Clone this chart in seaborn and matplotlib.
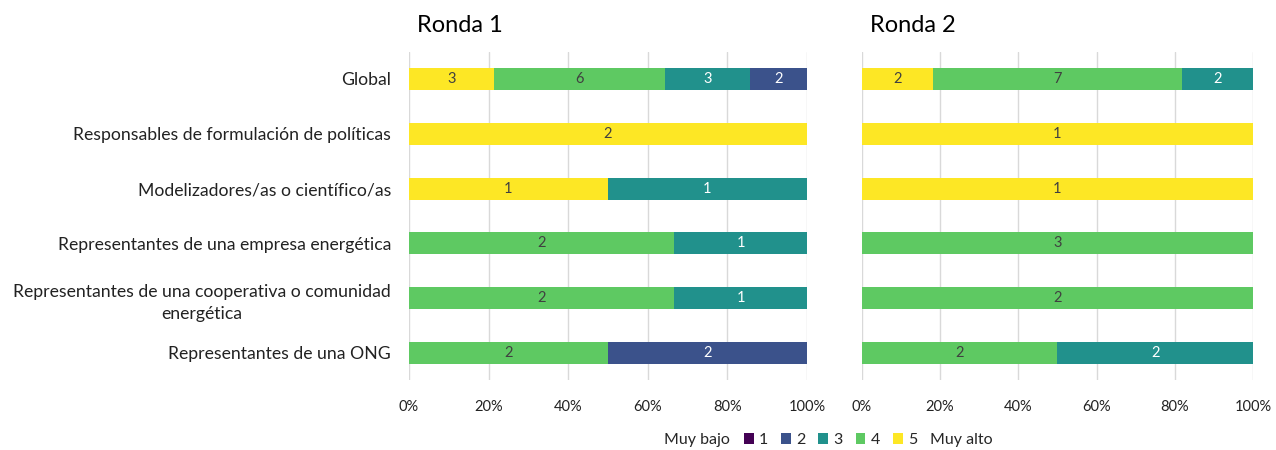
import numpy as np
import pandas as pd
import matplotlib
matplotlib.use("Agg")
import matplotlib.pyplot as plt
from matplotlib.patches import Patch
import seaborn as sns

categories = [
    "Global",
    "Responsables de formulación de políticas",
    "Modelizadores/as o científico/as",
    "Representantes de una empresa energética",
    "Representantes de una cooperativa o comunidad\nenergética",
    "Representantes de una ONG",
]
levels = ["5", "4", "3", "2", "1"]  # left-to-right order of segments

# counts per level (5, 4, 3, 2, 1)
ronda1 = {
    "5": [3, 2, 1, 0, 0, 0],
    "4": [6, 0, 0, 2, 2, 2],
    "3": [3, 0, 1, 1, 1, 0],
    "2": [2, 0, 0, 0, 0, 2],
    "1": [0, 0, 0, 0, 0, 0],
}
ronda2 = {
    "5": [2, 1, 1, 0, 0, 0],
    "4": [7, 0, 0, 3, 2, 2],
    "3": [2, 0, 0, 0, 0, 2],
    "2": [0, 0, 0, 0, 0, 0],
    "1": [0, 0, 0, 0, 0, 0],
}
titles = ["Ronda 1", "Ronda 2"]
xticks = [0, 20, 40, 60, 80, 100]
xticklabels = ["0%", "20%", "40%", "60%", "80%", "100%"]

colors = {"1": "#440154", "2": "#3b528b", "3": "#21918c", "4": "#5ec962", "5": "#fde725"}
text_colors = {"1": "white", "2": "white", "3": "white", "4": "#404040", "5": "#404040"}

sns.set_theme(style="whitegrid")
plt.rcParams["font.family"] = ["Lato", "DejaVu Sans"]

fig = plt.figure(figsize=(12.76, 4.5), dpi=100)
ax1 = fig.add_axes([0.3205, 0.1547, 0.3119, 0.7307])
ax2 = fig.add_axes([0.6755, 0.1547, 0.3064, 0.7307])

for ax, data, title in zip([ax1, ax2], [ronda1, ronda2], titles):
    df = pd.DataFrame(data, index=categories)
    pct = df.div(df.sum(axis=1), axis=0) * 100
    cum = pct.cumsum(axis=1)
    # draw from widest cumulative to narrowest so earlier segments overlay
    for lvl in reversed(levels):
        d = pd.DataFrame({"cat": categories, "val": cum[lvl].values})
        sns.barplot(data=d, y="cat", x="val", orient="h", color=colors[lvl],
                    width=0.4, ax=ax, saturation=1, edgecolor="none")
    left = np.zeros(len(categories))
    for lvl in levels:
        for i in range(len(categories)):
            cnt = df[lvl].iloc[i]
            w = pct[lvl].iloc[i]
            if cnt > 0:
                ax.text(left[i] + w / 2, i, str(cnt), ha="center", va="center",
                        fontsize=10.5, color=text_colors[lvl])
        left += pct[lvl].values
    ax.set_xlim(0, 100)
    ax.set_ylim(5.5, -0.5)
    ax.set_xticks(xticks)
    ax.set_xticklabels(xticklabels, fontsize=10.5, color="#222222")
    ax.set_xlabel("")
    ax.set_ylabel("")
    ax.grid(axis="x", color="#d9d9d9", linewidth=1)
    ax.grid(axis="y", visible=False)
    ax.set_axisbelow(True)
    for s in ax.spines.values():
        s.set_visible(False)
    ax.tick_params(axis="x", length=0, pad=14)
    ax.set_title(title, loc="left", fontsize=17, x=0.02, pad=14, color="black")

ax1.set_yticks(range(len(categories)))
ax1.set_yticklabels(categories, fontsize=12.7, color="#222222",
                    multialignment="center", linespacing=1.45)
ax1.tick_params(axis="y", length=0, pad=13)
ax2.set_yticks([])

handles = [Patch(facecolor=colors[l], edgecolor="none") for l in ["1", "2", "3", "4", "5"]]
fig.legend(handles, ["1", "2", "3", "4", "5"], ncol=5, loc="center",
           bbox_to_anchor=(0.651, 0.022), frameon=False, fontsize=11.5,
           handlelength=0.6, handleheight=0.6, handletextpad=0.35, columnspacing=0.8)
fig.text(0.572, 0.022, "Muy bajo", ha="right", va="center", fontsize=11.5)
fig.text(0.729, 0.022, "Muy alto", ha="left", va="center", fontsize=11.5)

fig.savefig("out.png", dpi=100)
